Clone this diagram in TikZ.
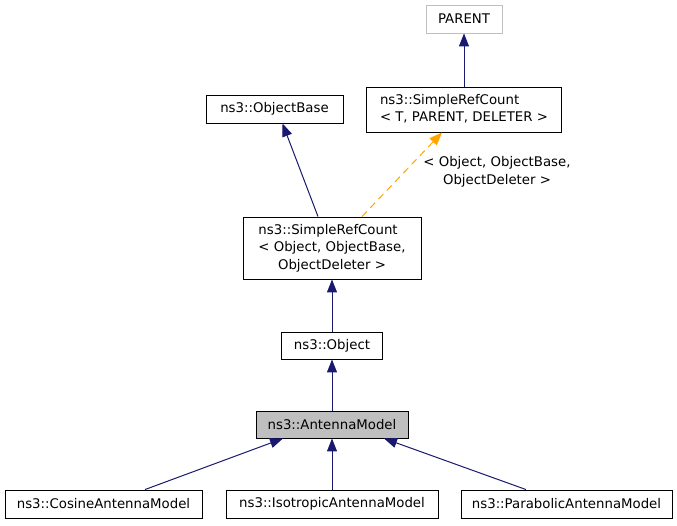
\documentclass[tikz,border=0pt]{standalone}
\usepackage{fontspec}
\setmainfont{DejaVu Sans}
\usetikzlibrary{arrows.meta}
\definecolor{edgeblue}{HTML}{191970}
\definecolor{edgeorange}{HTML}{FFA500}
\definecolor{boxgray}{HTML}{BFBFBF}
\begin{document}
\begin{tikzpicture}[x=1pt,y=-1pt,
  txt/.style={font=\fontsize{13.3}{17.5}\selectfont,text=black},
  cls/.style={txt,draw=black,line width=0.9pt,rectangle,inner sep=0pt,anchor=center},
  inh/.style={draw=edgeblue,line width=1pt,-{Triangle[length=13pt,width=10pt]}},
  tmpl/.style={draw=edgeorange,line width=1pt,dash pattern=on 7pt off 5pt,-{Triangle[length=13pt,width=10pt]}}]
\useasboundingbox (0,0) rectangle (677,525);
\fill[white] (0,0) rectangle (677,525);

\node[cls,draw=boxgray,minimum width=76pt,minimum height=28pt] (parent) at (464,19) {PARENT};
\node[cls,minimum width=195pt,minimum height=45pt] (srcT) at (464,109.5)
  {\begin{tabular}{@{}l@{}}ns3::SimpleRefCount\\< T, PARENT, DELETER >\end{tabular}};
\node[cls,minimum width=137pt,minimum height=28pt] (objbase) at (274.5,109) {ns3::ObjectBase};
\node[cls,minimum width=178pt,minimum height=62pt] (srcObj) at (332,248)
  {\begin{tabular}{@{}l@{}}ns3::SimpleRefCount\\< Object, ObjectBase,\\\multicolumn{1}{@{}c@{}}{ObjectDeleter >}\end{tabular}};
\node[cls,minimum width=101pt,minimum height=27pt] (object) at (332,345.5) {ns3::Object};
\node[cls,fill=boxgray,minimum width=152pt,minimum height=27pt] (antenna) at (332,424.5) {ns3::AntennaModel};
\node[cls,minimum width=197pt,minimum height=28pt] (cosine) at (103.5,504) {ns3::CosineAntennaModel};
\node[cls,minimum width=212pt,minimum height=28pt] (iso) at (332,504) {ns3::IsotropicAntennaModel};
\node[cls,minimum width=211pt,minimum height=28pt] (para) at (566.5,504) {ns3::ParabolicAntennaModel};

\node[txt,align=center,inner sep=0pt] (lbl) at (497,172) {< Object, ObjectBase,\\ObjectDeleter >};

\draw[inh] (srcT.north) -- (parent.south);
\draw[inh] ([xshift=-14pt]srcObj.north) -- ([xshift=8pt]objbase.south);
\draw[tmpl] ([xshift=30pt]srcObj.north) -- ([xshift=-22pt]srcT.south);
\draw[inh] (object.north) -- (srcObj.south);
\draw[inh] (antenna.north) -- (object.south);
\draw[inh] ([xshift=41.5pt]cosine.north) -- ([xshift=-49pt]antenna.south);
\draw[inh] (iso.north) -- (antenna.south);
\draw[inh] ([xshift=-40.5pt]para.north) -- ([xshift=52pt]antenna.south);
\end{tikzpicture}
\end{document}
